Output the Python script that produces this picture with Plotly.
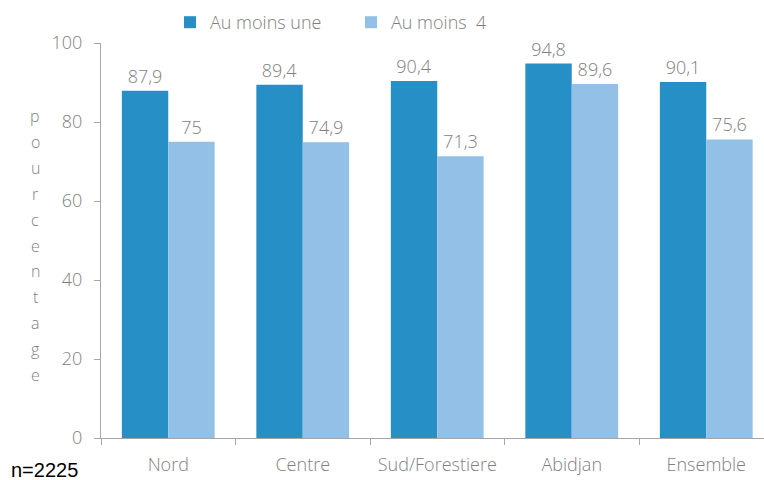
import plotly.graph_objects as go

categories = ["Nord", "Centre", "Sud/Forestiere", "Abidjan", "Ensemble"]
au_moins_une = [87.9, 89.4, 90.4, 94.8, 90.1]
au_moins_4 = [75, 74.9, 71.3, 89.6, 75.6]
series_names = ["Au moins une", "Au moins  4"]
y_ticks = [0, 20, 40, 60, 80, 100]
y_title = "pourcentage"
note = "n=2225"

DARK = "#2690c6"
LIGHT = "#93c0e7"
GRAY = "#7f7f7f"
FONT = "Open Sans"
WT = 300


def fmt(v):
    s = ("%g" % v)
    return s.replace(".", ",")


fig = go.Figure()
for name, vals, col in [(series_names[0], au_moins_une, DARK), (series_names[1], au_moins_4, LIGHT)]:
    fig.add_trace(go.Bar(
        x=categories, y=vals, name=name, marker=dict(color=col, line=dict(width=0)),
        text=[fmt(v) for v in vals], textposition="outside", cliponaxis=False,
        textfont=dict(family=FONT, size=18, color=GRAY, weight=WT),
    ))

W, H = 764, 480
L, R, T, B = 101, 0, 43, 42
pw, ph = W - L - R, H - T - B

ann = []
n = len(y_title)
for i, ch in enumerate(y_title):
    py = 116 + i * (375 - 116) / (n - 1)
    ann.append(dict(text=ch, xref="paper", yref="paper", x=(35 - L) / pw, y=(H - B - py) / ph,
                    xanchor="center", yanchor="middle", showarrow=False,
                    font=dict(family=FONT, size=16, color=GRAY, weight=WT)))
ann.append(dict(text=note, xref="paper", yref="paper", x=(9 - L) / pw, y=(H - B - 483) / ph,
                xanchor="left", yanchor="bottom", showarrow=False,
                font=dict(family="Liberation Sans", size=20, color="black")))

fig.update_layout(
    width=W, height=H, margin=dict(l=L, r=R, t=T, b=B, pad=0, autoexpand=False),
    paper_bgcolor="white", plot_bgcolor="white",
    barmode="group", bargap=0.31, bargroupgap=0,
    separators=",.",
    font=dict(family=FONT, size=17, color=GRAY),
    legend=dict(orientation="h", x=(170 - L) / pw, y=1 + (T - 4) / ph, xanchor="left", yanchor="top",
                font=dict(family=FONT, size=18, color=GRAY, weight=WT), itemwidth=30,
                entrywidth=136, entrywidthmode="pixels",
                bgcolor="rgba(0,0,0,0)"),
    annotations=ann,
    showlegend=True,
)
fig.update_xaxes(
    type="category", range=[-0.5, -0.5 + pw / 134.5],
    showline=True, linecolor="#a6a6a6", linewidth=1.3,
    ticks="outside", tickson="boundaries", ticklen=6, tickcolor="#a6a6a6",
    tickfont=dict(family=FONT, size=18, color=GRAY, weight=WT), showgrid=False,
    ticklabelstandoff=10,
)
fig.update_yaxes(
    range=[0, 100], tickvals=y_ticks, showline=True, linecolor="#a6a6a6", linewidth=1.3,
    ticks="outside", ticklen=6, tickcolor="#a6a6a6", showgrid=False, zeroline=False,
    tickfont=dict(family=FONT, size=18, color=GRAY, weight=WT), ticklabelstandoff=8,
)

fig.write_html("out.html", config={"displayModeBar": False},
               post_script="document.body.style.margin='0';document.body.style.overflow='hidden';")
